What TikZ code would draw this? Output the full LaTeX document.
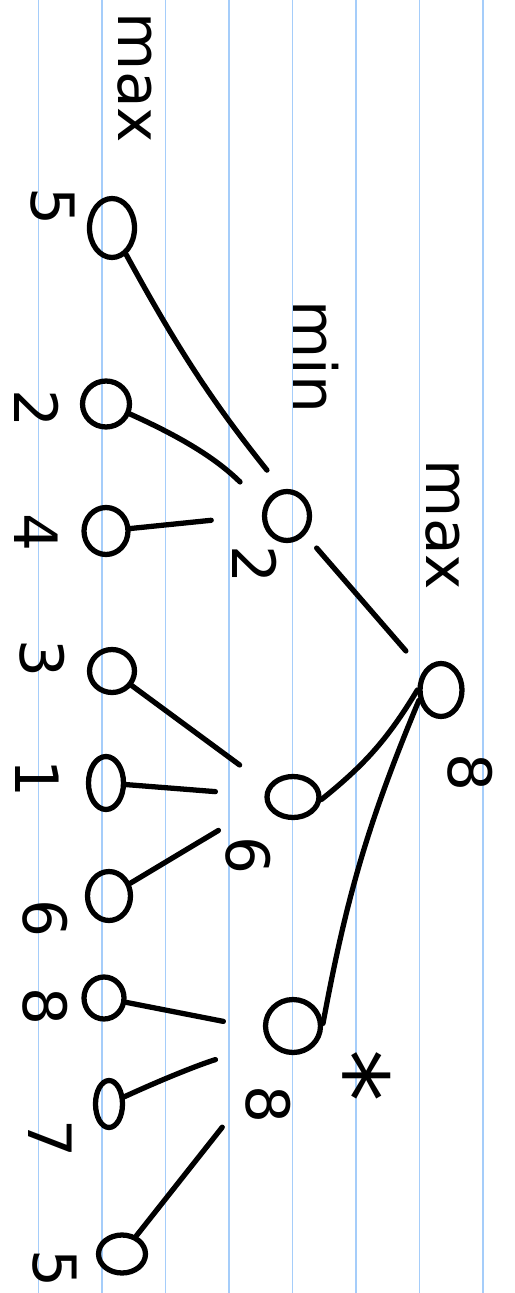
\documentclass[tikz,border=0pt]{standalone}
\usepackage{fontspec}
\setmainfont{DejaVu Sans}
\usetikzlibrary{shapes.geometric}
\definecolor{ruled}{RGB}{165,205,250}

\begin{document}
\begin{tikzpicture}[
        x=0.02cm, y=-0.02cm,
        pen/.style={line width=3pt, line cap=round, line join=round},
        vertex/.style={pen, draw, ellipse, inner sep=0pt},
        tie/.style={pen, draw},
        lab/.style={rotate=-90, inner sep=0pt, font=\fontsize{34}{34}\selectfont},
    ]
    \useasboundingbox (0,0) rectangle (514,1293);
    % ruled paper
    \foreach \x in {38.5,102,165.5,229,292.5,356,419.5,483}
        \draw[ruled, line width=1.1pt] (\x,0) -- (\x,1293);

    % root (max)
    \node[vertex, minimum width=0.84cm, minimum height=1.06cm](root) at (441,690){};
    % min level
    \node[vertex, minimum width=0.9cm, minimum height=0.98cm](a) at (287,516){};
    \node[vertex, minimum width=1.04cm, minimum height=0.82cm](b) at (293,797){};
    \node[vertex, minimum width=1.1cm, minimum height=1.06cm](c) at (293,1026){};
    % leaves
    \node[vertex, minimum width=0.9cm, minimum height=1.18cm](a1) at (112,228){};
    \node[vertex, minimum width=0.94cm, minimum height=0.92cm](a2) at (106,404){};
    \node[vertex, minimum width=0.88cm, minimum height=0.94cm](a3) at (106,531){};
    \node[vertex, minimum width=0.9cm, minimum height=0.86cm](b1) at (112,671){};
    \node[vertex, minimum width=0.7cm, minimum height=1.06cm](b2) at (106,783){};
    \node[vertex, minimum width=0.86cm, minimum height=0.98cm](b3) at (109,896){};
    \node[vertex, minimum width=0.8cm, minimum height=0.84cm](c1) at (104,998){};
    \node[vertex, minimum width=0.54cm, minimum height=0.94cm](c2) at (109,1104){};
    \node[vertex, minimum width=0.94cm, minimum height=0.76cm](c3) at (122,1254){};

    % connectors
    \draw[tie, shorten <=10pt, shorten >=15pt] (a.314) -- (root.133);
    \draw[tie, bend right=10] (b.-5) to (root.180);
    \draw[tie, bend left=6] (c.5) to (root.205);
    \draw[tie, shorten >=14pt, bend right=5] (a1) to (a.100);
    \draw[tie, shorten >=19pt, bend left=10] (a2) to (a.155);
    \draw[tie, shorten >=29pt] (a3) -- (a.178);
    \draw[tie, shorten >=20pt] (b1) -- (b.156);
    \draw[tie, shorten >=28pt] (b2) -- (b.177);
    \draw[tie, shorten >=31pt] (b3) -- (b.191);
    \draw[tie, shorten >=23pt] (c1) -- (c.186);
    \draw[tie, shorten >=33pt, bend left=6] (c2) to (c.225);
    \draw[tie, shorten >=54pt] (c3) -- (c.246);

    % level names
    \node[lab](maxleaf) at (135,78){max};
    \node[lab](minlevel) at (316,357){min};
    \node[lab](maxroot) at (443,525){max};

    % values
    \node[lab](root-v) at (470,772){8};
    \node[lab](a-v) at (255,565){2};
    \node[lab](b-v) at (248,855){6};
    \node[lab](c-v) at (268,1104){8};
    \node[lab](a1-v) at (53,207){5};
    \node[lab](a2-v) at (37,409){2};
    \node[lab](a3-v) at (36,533){4};
    \node[lab](b1-v) at (42,658){3};
    \node[lab](b2-v) at (37,778){1};
    \node[lab](b3-v) at (45,918){6};
    \node[lab](c1-v) at (45,1006){8};
    \node[lab](c2-v) at (50,1138){7};
    \node[lab](c3-v) at (55,1268){5};
    \node[lab, font=\fontsize{60}{60}\selectfont](star) at (352,1076){*};
    \end{tikzpicture}
\end{document}
